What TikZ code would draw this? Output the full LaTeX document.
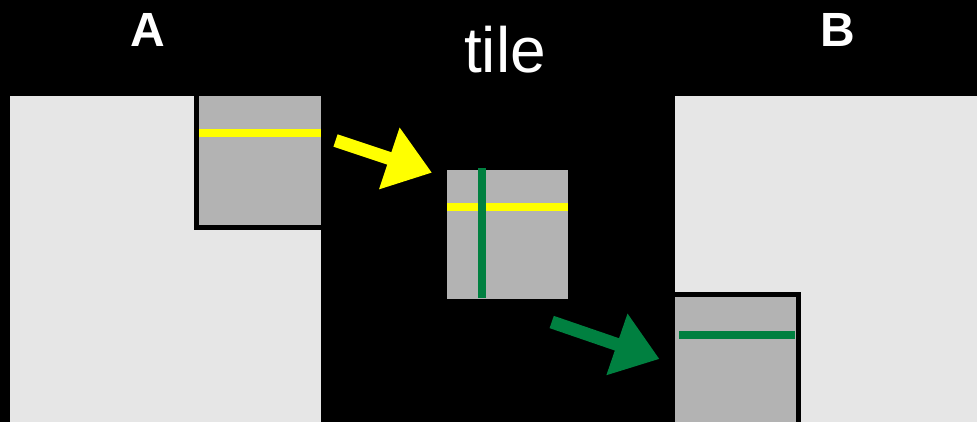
\documentclass[tikz,border=0pt]{standalone}
\usepackage{fontspec}
\setmainfont{Liberation Sans}
\usetikzlibrary{arrows.meta}
\definecolor{panelgray}{HTML}{E6E6E6}
\definecolor{tilegray}{HTML}{B3B3B3}
\definecolor{hiyellow}{HTML}{FFFF00}
\definecolor{higreen}{RGB}{0,128,64}
\begin{document}
\begin{tikzpicture}[x=1pt,y=-1pt,
  panel/.style={fill=panelgray},
  tilebox/.style={fill=tilegray},
  tileborder/.style={draw=black,line width=5pt},
  stripe/.style={line width=8pt},
  bigarrow/.style={line width=13pt,-{Triangle[length=45pt,width=62pt]}},
  label/.style={text=white,inner sep=0pt,font=\fontsize{48}{48}\selectfont\bfseries}]
\useasboundingbox (0,0) rectangle (977,422);
\fill[black] (0,0) rectangle (977,422);
% panels
\fill[panel] (10,96) rectangle (321,422);
\fill[panel] (675,96) rectangle (977,422);
% tile in A
\fill[tilebox] (196.5,96) rectangle (321,227.5);
\draw[tileborder] (196.5,96) -- (196.5,227.5) -- (321,227.5);
\draw[stripe,hiyellow] (199,133.3) -- (321,133.3);
% middle tile
\fill[tilebox] (447,170) rectangle (568,299);
\draw[stripe,hiyellow] (447,207.5) -- (567.5,207.5);
\draw[stripe,higreen] (482,168) -- (482,298);
% tile in B
\fill[tilebox] (675,294.8) rectangle (798.5,422);
\draw[tileborder] (675,294.8) -- (798.5,294.8) -- (798.5,422);
\draw[stripe,higreen] (679,335.2) -- (795,335.2);
% arrows
\coordinate (ya) at (335.5,140.5);
\coordinate (yb) at (432,172.7);
\coordinate (ga) at (551.7,322);
\coordinate (gb) at (659.5,359);
\draw[bigarrow,hiyellow] (ya) -- (yb);
\draw[bigarrow,higreen] (ga) -- (gb);
% labels
\node[label] (la) at (147.7,30) {A};
\node[label] (lb) at (837.7,30) {B};
\node[text=white,inner sep=0pt,anchor=base,font=\fontsize{64}{64}\selectfont] (lt) at (505,72.3) {tile};
\end{tikzpicture}
\end{document}
